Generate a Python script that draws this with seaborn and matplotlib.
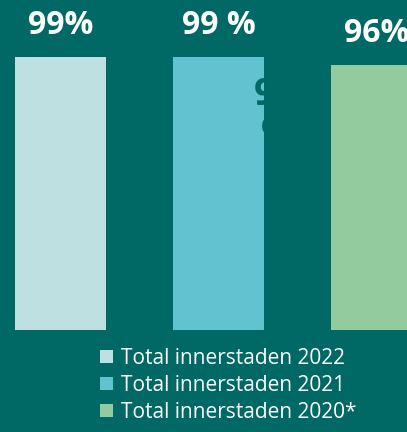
import pandas as pd
import seaborn as sns
import matplotlib.pyplot as plt
from matplotlib.patches import Patch

# Data
series = ['Total innerstaden 2022', 'Total innerstaden 2021', 'Total innerstaden 2020*']
values = [99, 99, 96]
labels = ['99%', '99 %', '96%']
colors = ['#BEE0E0', '#62C3D0', '#93CA9E']
bg = '#006966'

df = pd.DataFrame({'serie': series, 'andel': values})

sns.set_theme(style='white')
plt.rcParams['font.family'] = ['Open Sans', 'DejaVu Sans']

fig = plt.figure(figsize=(4.07, 4.32), dpi=100, facecolor=bg)
ax = fig.add_axes([0, 102 / 432, 1, 330 / 432])
ax.set_facecolor(bg)

sns.barplot(data=df, x='serie', y='andel', hue='serie', palette=colors,
            width=0.576, legend=False, ax=ax, saturation=1, linewidth=0)

ax.set_xlim(-0.383, 2.193)
ax.set_ylim(0, 119.6)
ax.axis('off')

# value labels above the bars
for i, (v, lab) in enumerate(zip(values, labels)):
    ax.text(i, v + 8.2, lab, ha='center', va='baseline', color='white',
            fontsize=23, fontweight='bold')

# hidden label behind the middle bar (shows as a dark glyph)
ax.text(1.225, 81.6, '9', ha='left', va='baseline', color=bg,
        fontsize=27, fontweight='bold')
ax.text(1.27, 67, '%', ha='left', va='baseline', color=bg,
        fontsize=27, fontweight='bold')

handles = [Patch(facecolor=c, edgecolor='none') for c in colors]
leg = fig.legend(handles, series, loc='upper left', bbox_to_anchor=(100 / 407, 1 - 348 / 432),
                 frameon=False, fontsize=15, labelcolor='white', handlelength=0.63,
                 handleheight=0.63, handletextpad=0.38, labelspacing=0.28,
                 borderpad=0, borderaxespad=0)

fig.savefig('out.png', dpi=100, facecolor=bg)
